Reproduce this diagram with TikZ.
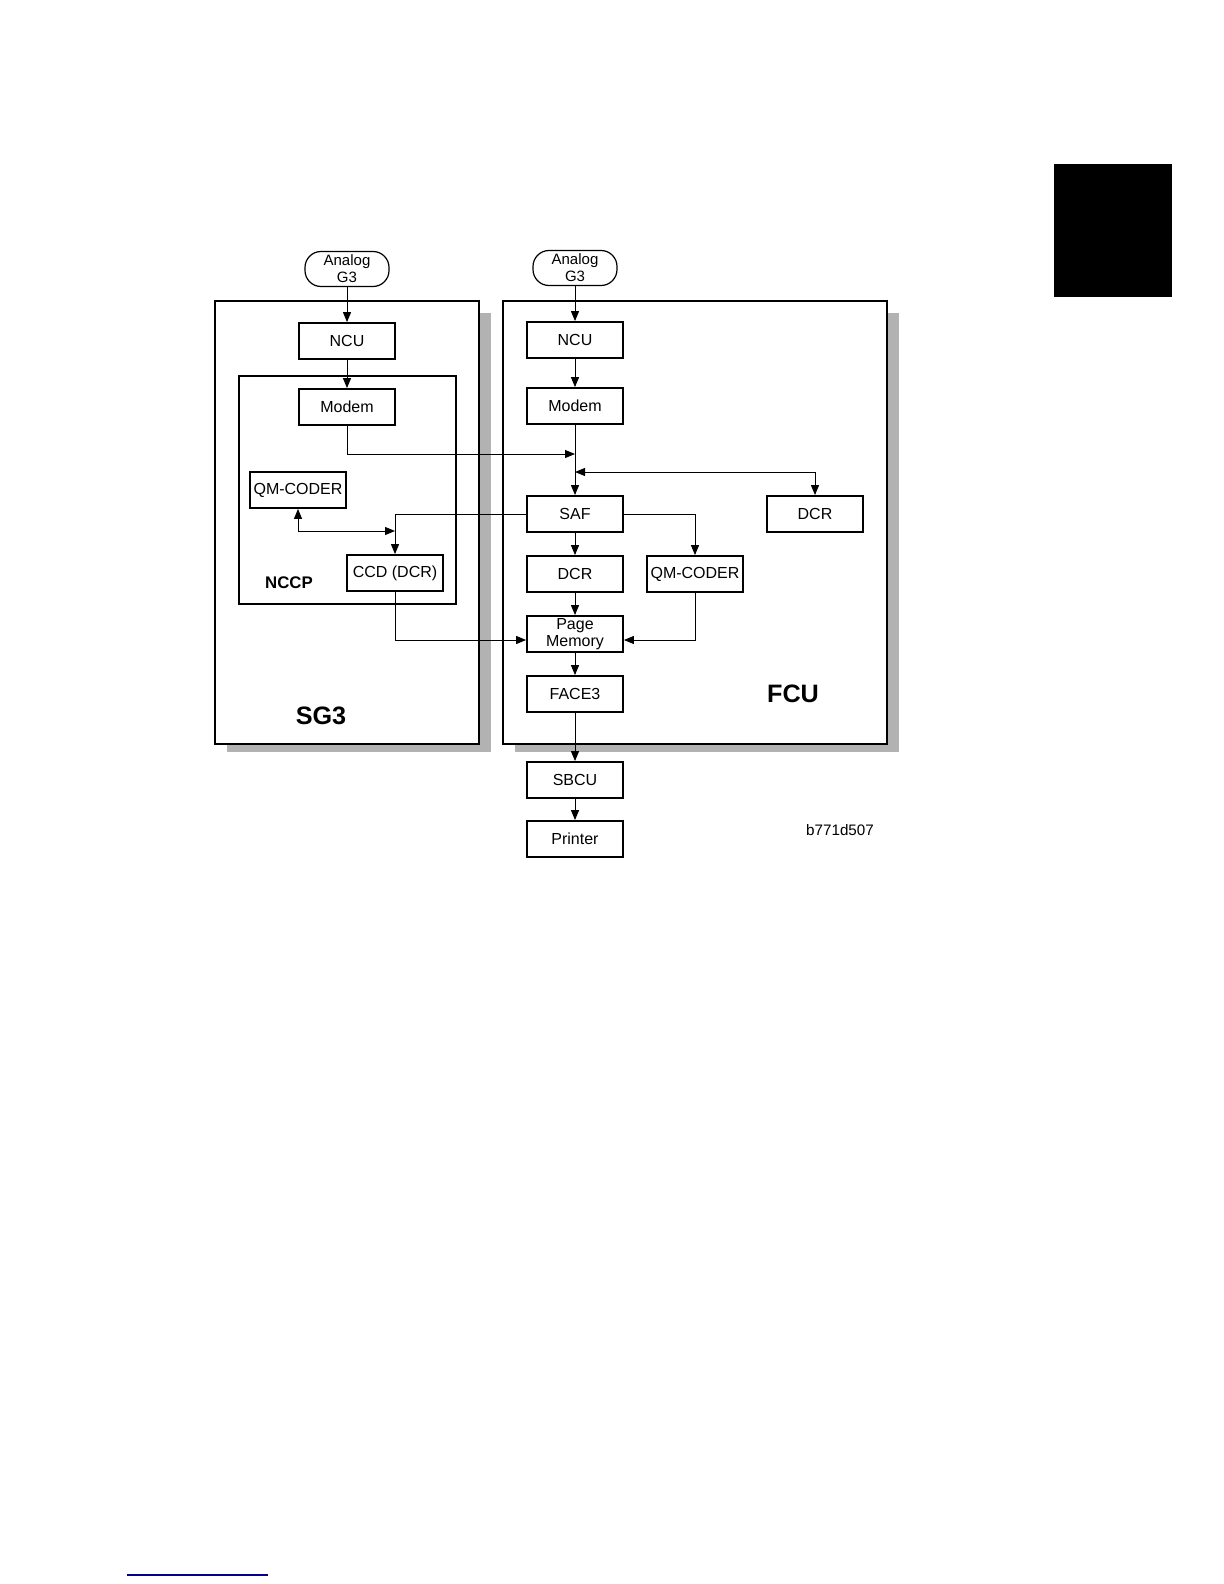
\documentclass[tikz,border=0pt]{standalone}
\usepackage{fontspec}
\setmainfont{Liberation Sans}
\usetikzlibrary{arrows.meta}

\begin{document}
\begin{tikzpicture}[x=0.5pt,y=-0.5pt, >={Triangle[length=5pt,width=4pt]},
  every node/.style={font=\fontsize{8}{8.5}\selectfont},
  unit/.style={draw,line width=0.9pt,fill=white,minimum width=48pt,minimum height=18pt,inner sep=0.5pt,align=center},
  term/.style={draw,line width=0.6pt,rounded corners=8pt,minimum width=42pt,minimum height=17.5pt,inner sep=0pt,align=center,font=\fontsize{7.5}{8.5}\selectfont},
  frame/.style={draw,line width=0.9pt,fill=white},
  shade/.style={fill=black!30},
  conn/.style={->,line width=0.5pt},
  title/.style={font=\bfseries\fontsize{12.6}{14}\selectfont}]
  \useasboundingbox (0,0) rectangle (1224,1584);
  \fill[black] (1054,164) rectangle (1172,297);
  \draw[blue!55!black,line width=0.8pt] (127,1575) -- (268,1575);

  \fill[shade] (227,313) rectangle (491,752);
  \fill[shade] (515,313) rectangle (899,752);
  \draw[frame] (215,301) rectangle (479,744);
  \draw[frame] (503,301) rectangle (887,744);
  \draw[line width=0.9pt] (239,376) rectangle (456,604);

  \node[term] (aL) at (347,269) {Analog\\G3};
  \node[term] (aR) at (575,268) {Analog\\G3};

  \node[unit] (ncuL) at (347,341) {NCU};
  \node[unit] (modemL) at (347,407) {Modem};
  \node[unit] (qmL) at (298,490) {QM-CODER};
  \node[unit] (ccd) at (395,573) {CCD (DCR)};

  \node[unit] (ncuR) at (575,340) {NCU};
  \node[unit] (modemR) at (575,406) {Modem};
  \node[unit] (saf) at (575,514) {SAF};
  \node[unit] (dcrR) at (815,514) {DCR};
  \node[unit] (dcrM) at (575,574) {DCR};
  \node[unit] (qmR) at (695,574) {QM-CODER};
  \node[unit] (page) at (575,634) {Page\\Memory};
  \node[unit] (face3) at (575,694) {FACE3};
  \node[unit] (sbcu) at (575,780) {SBCU};
  \node[unit] (printer) at (575,839) {Printer};

  \node[font=\bfseries\fontsize{8.4}{10}\selectfont] (nccp) at (289,583) {NCCP};
  \node[title] (sg3) at (321,716) {SG3};
  \node[title] (fcu) at (793,694) {FCU};
  \node[font=\fontsize{7.6}{9}\selectfont] (fig) at (840,830) {b771d507};

  \coordinate (j1) at (575,454);
  \coordinate (j2) at (575,472);
  \coordinate (j3) at (395,531);

  \draw[conn] (aL) -- (ncuL);
  \draw[conn] (ncuL) -- (modemL);
  \draw[conn] (modemL.south) |- (j1);
  \draw[conn] (aR) -- (ncuR);
  \draw[conn] (ncuR) -- (modemR);
  \draw[conn] (modemR) -- (saf);
  \draw[conn,<->] (j2) -| (dcrR.north);
  \draw[conn] (saf.west) -| (ccd.north);
  \draw[conn,<->] (qmL.south) |- (j3);
  \draw[conn] (saf.east) -| (qmR.north);
  \draw[conn] (saf) -- (dcrM);
  \draw[conn] (dcrM) -- (page);
  \draw[conn] (qmR.south) |- ([yshift=-3pt]page.east);
  \draw[conn] (ccd.south) |- ([yshift=-3pt]page.west);
  \draw[conn] (page) -- (face3);
  \draw[conn] (face3) -- (sbcu);
  \draw[conn] (sbcu) -- (printer);
\end{tikzpicture}
\end{document}
